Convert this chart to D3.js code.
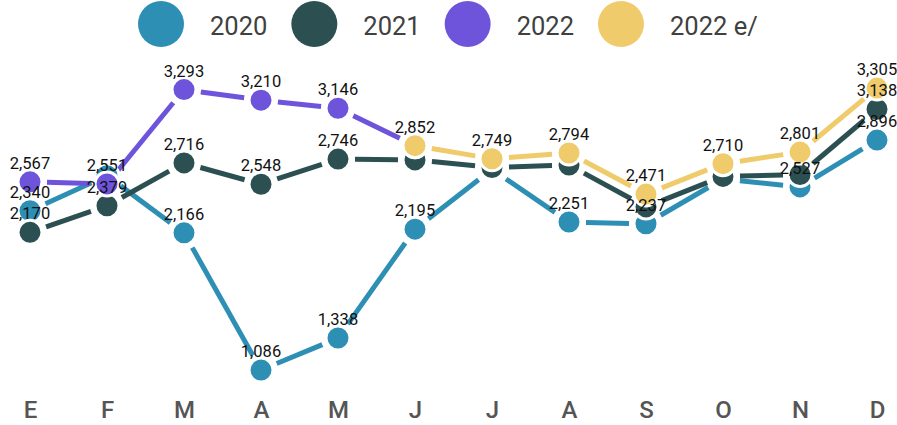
<!DOCTYPE html>
<html>
<head>
<meta charset="utf-8">
<script src="https://cdn.jsdelivr.net/npm/d3@7"></script>
<style>
  html, body { margin: 0; padding: 0; background: #fff; }
  svg { display: block; font-family: Roboto, "Noto Sans", sans-serif; }
</style>
</head>
<body>
<svg id="chart" width="897" height="425"></svg>
<script>
// ---- data ----
const months = ["E", "F", "M", "A", "M", "J", "J", "A", "S", "O", "N", "D"];
const seriesNames = ["2020", "2021", "2022", "2022 e/"];
const values2020 = [2340, 2615, 2166, 1086, 1338, 2195, 2665, 2251, 2237, 2590, 2527, 2896];
const values2021 = [2170, 2379, 2716, 2548, 2746, 2740, 2680, 2700, 2370, 2610, 2625, 3138];
const values2022 = [2567, 2551, 3293, 3210, 3146, 2852, null, null, null, null, null, null];
const values2022e = [null, null, null, null, null, 2852, 2749, 2794, 2471, 2710, 2801, 3305];
const colors = ["#2e8fb5", "#2c5052", "#6e54db", "#f0cb6b"];
const labelPriority = [3, 2, 0, 1];

const allSeries = [values2020, values2021, values2022, values2022e];

const W = 897, H = 425;
const svg = d3.select("#chart");

const x = d3.scalePoint().domain(d3.range(months.length)).range([30, 877]);
const y = d3.scaleLinear().domain([1000, 3400]).range([381, 76]);

// ---- axis ----
const axis = svg.append("g")
  .attr("transform", "translate(0,401)")
  .call(d3.axisBottom(x).tickFormat(i => months[i]).tickSize(0).tickPadding(0));
axis.select(".domain").remove();
axis.selectAll("text")
  .attr("font-size", 24)
  .attr("font-weight", 500)
  .attr("fill", "#555")
  .attr("font-family", "Roboto, sans-serif");

// ---- lines (segments trimmed around markers) ----
const gap = 17;
const lineLayer = svg.append("g");
allSeries.forEach((vals, si) => {
  const segs = [];
  for (let i = 0; i < vals.length - 1; i++) {
    if (vals[i] == null || vals[i + 1] == null) continue;
    const x0 = x(i), y0 = y(vals[i]), x1 = x(i + 1), y1 = y(vals[i + 1]);
    const len = Math.hypot(x1 - x0, y1 - y0);
    const ux = (x1 - x0) / len, uy = (y1 - y0) / len;
    segs.push({ x0: x0 + ux * gap, y0: y0 + uy * gap, x1: x1 - ux * gap, y1: y1 - uy * gap });
  }
  lineLayer.append("g").selectAll("line").data(segs).join("line")
    .attr("x1", d => d.x0).attr("y1", d => d.y0)
    .attr("x2", d => d.x1).attr("y2", d => d.y1)
    .attr("stroke", colors[si])
    .attr("stroke-width", 5);
});

// ---- markers ----
const markerLayer = svg.append("g");
allSeries.forEach((vals, si) => {
  const pts = vals.map((v, i) => ({ i, v })).filter(d => d.v != null);
  markerLayer.append("g").selectAll("circle").data(pts).join("circle")
    .attr("cx", d => x(d.i))
    .attr("cy", d => y(d.v))
    .attr("r", 12)
    .attr("fill", colors[si])
    .attr("stroke", "#fff")
    .attr("stroke-width", 3);
});

// ---- value labels with overlap hiding ----
const fmt = d3.format(",");
const labelLayer = svg.append("g")
  .attr("font-size", 16.5)
  .attr("font-weight", 400)
  .attr("fill", "#111")
  .attr("text-anchor", "middle");
const placed = [];
labelPriority.forEach(si => {
  allSeries[si].forEach((v, i) => {
    if (v == null) return;
    const cx = x(i), by = y(v) - 13;
    const t = labelLayer.append("text")
      .attr("x", cx).attr("y", by)
      .text(fmt(v));
    const w = t.node().getComputedTextLength();
    const box = { x0: cx - w / 2, x1: cx + w / 2, y0: by - 13, y1: by + 3 };
    const hit = placed.some(b => b.x0 < box.x1 && box.x0 < b.x1 && b.y0 < box.y1 && box.y0 < b.y1);
    if (hit) { t.remove(); } else { placed.push(box); }
  });
});

// ---- legend ----
const legend = svg.append("g");
let lx = 138;
seriesNames.forEach((name, si) => {
  legend.append("circle")
    .attr("cx", lx + 23).attr("cy", 24).attr("r", 23)
    .attr("fill", colors[si]);
  const t = legend.append("text")
    .attr("x", lx + 46 + 26).attr("y", 35)
    .attr("font-size", 25.5)
    .attr("fill", "#404040")
    .text(name);
  lx = lx + 46 + 26 + t.node().getComputedTextLength() + 24;
});
</script>
</body>
</html>
